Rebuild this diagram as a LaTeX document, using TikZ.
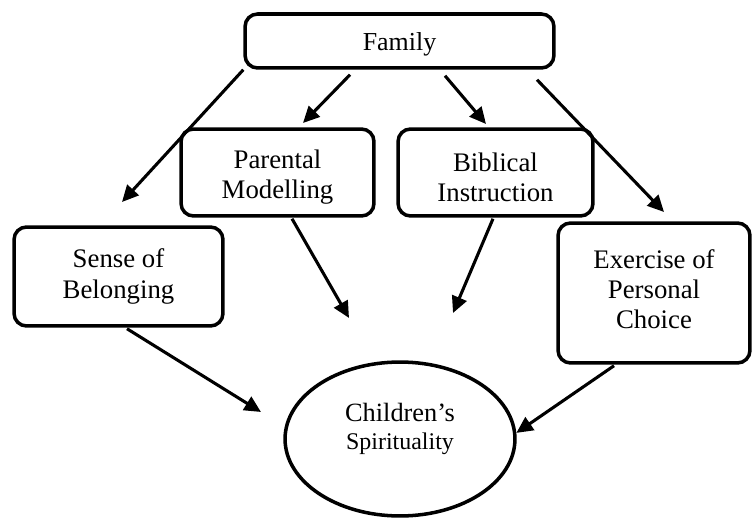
\documentclass[tikz,border=0pt]{standalone}
\usepackage{fontspec}
\setmainfont{Liberation Serif}
\usetikzlibrary{arrows.meta,calc,shapes.geometric}
\begin{document}
\begin{tikzpicture}[x=0.016cm, y=-0.016cm]
            \tikzstyle{factor}=[draw, line width=1.6pt, rounded corners=0.2cm, align=center, inner sep=0pt, font=\fontsize{12.2}{13.8}\selectfont]
            \tikzstyle{outcome}=[draw, ellipse, line width=1.6pt, align=center, inner sep=0pt, minimum width=3.68cm, minimum height=2.464cm, font=\fontsize{12}{12.75}\selectfont]
            \tikzstyle{link}=[line width=1.4pt, -{Triangle[length=7.5pt, width=7pt]}]
            \useasboundingbox (0, 0) rectangle (752, 518);
            \node [factor, minimum width=4.944cm, minimum height=0.864cm, text height=11.5pt, font=\fontsize{11.8}{13}\selectfont] (family) at (399.5, 41) {Family};
            \node [factor, minimum width=3.088cm, minimum height=1.392cm, text height=26.7pt] (parental) at (277.5, 172.5) {Parental\\Modelling};
            \node [factor, minimum width=3.12cm, minimum height=1.392cm, text height=26.7pt] (biblical) at (495.5, 172.5) {Biblical\\Instruction};
            \node [factor, minimum width=3.344cm, minimum height=1.584cm] (sense) at (118.5, 276.5) {Sense of\\Belonging};
            \node [factor, minimum width=3.072cm, minimum height=2.24cm, text depth=3.6pt] (exercise) at (654, 293) {Exercise of\\Personal\\Choice};
            \node [outcome, text depth=11.5pt] (spirit) at (400, 439) {Children's\\\fontsize{10.9}{12.75}\selectfont Spirituality};
            \coordinate (tipsense) at (122, 202);
            \coordinate (tipparental) at (303, 123);
            \coordinate (tipbiblical) at (486, 124);
            \coordinate (tipexercise) at (664, 212);
            \coordinate (tipfromsense) at (261, 412);
            \coordinate (tipfromparental) at (349, 318);
            \coordinate (tipfrombiblical) at (453, 313);
            \draw [link] (family.south west) -- (tipsense);
            \draw [link] ($(family.south)+(-49.5, 5)$) -- (tipparental);
            \draw [link] ($(family.south)+(45.5, 6)$) -- (tipbiblical);
            \draw [link] ($(family.south)+(137.5, 10)$) -- (tipexercise);
            \draw [link] ($(parental.south)+(14.5, 1)$) -- (tipfromparental);
            \draw [link] ($(biblical.south)+(-2.5, 1)$) -- (tipfrombiblical);
            \draw [link] ($(sense.south)+(8.5, 1)$) -- (tipfromsense);
            \draw [link] ($(exercise.south)+(-40, 1)$) -- (spirit.3);
        \end{tikzpicture}
\end{document}
